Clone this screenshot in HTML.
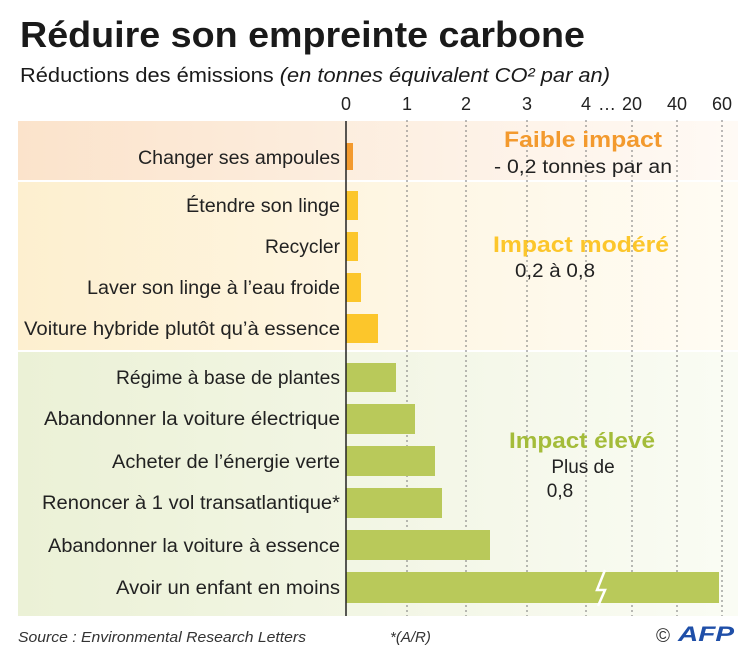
<!DOCTYPE html>
<html><head><meta charset="utf-8"><style>
html,body{margin:0;padding:0;background:#fff;}
svg{display:block;font-family:"Liberation Sans",sans-serif;}
</style></head><body>
<svg width="750" height="654" viewBox="0 0 750 654" xmlns="http://www.w3.org/2000/svg">
<defs>
<linearGradient id="go" x1="0" x2="1"><stop offset="0" stop-color="#fbe3cb"/><stop offset="0.6" stop-color="#fdf1e5"/><stop offset="1" stop-color="#fffaf5"/></linearGradient>
<linearGradient id="gy" x1="0" x2="1"><stop offset="0" stop-color="#fdefcf"/><stop offset="0.6" stop-color="#fef7e6"/><stop offset="1" stop-color="#fffcf4"/></linearGradient>
<linearGradient id="gg" x1="0" x2="1"><stop offset="0" stop-color="#ebf1d6"/><stop offset="0.6" stop-color="#f4f7e8"/><stop offset="1" stop-color="#fafcf4"/></linearGradient>
</defs>
<text x="20" y="47" font-size="36" font-weight="bold" fill="#1a1a1a" textLength="565" lengthAdjust="spacingAndGlyphs">Réduire son empreinte carbone</text>
<text x="20" y="82" font-size="20" fill="#1a1a1a" textLength="590" lengthAdjust="spacingAndGlyphs">Réductions des émissions <tspan font-style="italic">(en tonnes équivalent CO² par an)</tspan></text>
<rect x="18" y="121" width="720" height="59" fill="url(#go)"/>
<rect x="18" y="182" width="720" height="168" fill="url(#gy)"/>
<rect x="18" y="352" width="720" height="264" fill="url(#gg)"/>
<g stroke="#777" stroke-width="1" stroke-dasharray="2,3">
<line x1="407" y1="120" x2="407" y2="616"/><line x1="466" y1="120" x2="466" y2="616"/><line x1="527" y1="120" x2="527" y2="616"/><line x1="586" y1="120" x2="586" y2="616"/><line x1="632" y1="120" x2="632" y2="616"/><line x1="677" y1="120" x2="677" y2="616"/><line x1="722" y1="120" x2="722" y2="616"/>
</g>
<g font-size="18" fill="#222" text-anchor="middle">
<text x="346" y="110">0</text><text x="407" y="110">1</text><text x="466" y="110">2</text><text x="527" y="110">3</text><text x="586" y="110">4</text><text x="607" y="110">…</text><text x="632" y="110">20</text><text x="677" y="110">40</text><text x="722" y="110">60</text>
</g>
<g>
<rect x="346" y="143" width="7" height="27" fill="#f39a2e"/>
<rect x="346" y="191" width="12" height="29" fill="#fcc62b"/>
<rect x="346" y="232" width="12" height="29" fill="#fcc62b"/>
<rect x="346" y="273" width="15" height="29" fill="#fcc62b"/>
<rect x="346" y="314" width="32" height="29" fill="#fcc62b"/>
<rect x="346" y="363" width="50" height="29" fill="#b9c95a"/>
<rect x="346" y="404" width="69" height="30" fill="#b9c95a"/>
<rect x="346" y="446" width="89" height="30" fill="#b9c95a"/>
<rect x="346" y="488" width="96" height="30" fill="#b9c95a"/>
<rect x="346" y="530" width="144" height="30" fill="#b9c95a"/>
<rect x="346" y="572" width="373" height="31" fill="#b9c95a"/>
<polyline points="605,570 597,590 605,590 598,606" fill="none" stroke="#fff" stroke-width="2.5"/>
</g>
<line x1="346" y1="121" x2="346" y2="616" stroke="#222" stroke-width="1.5"/>
<g font-size="19" fill="#222" text-anchor="end" lengthAdjust="spacingAndGlyphs">
<text x="340" y="164" textLength="202" lengthAdjust="spacingAndGlyphs">Changer ses ampoules</text>
<text x="340" y="212" textLength="154" lengthAdjust="spacingAndGlyphs">Étendre son linge</text>
<text x="340" y="253" textLength="75" lengthAdjust="spacingAndGlyphs">Recycler</text>
<text x="340" y="294" textLength="253" lengthAdjust="spacingAndGlyphs">Laver son linge à l’eau froide</text>
<text x="340" y="335" textLength="316" lengthAdjust="spacingAndGlyphs">Voiture hybride plutôt qu’à essence</text>
<text x="340" y="384" textLength="224" lengthAdjust="spacingAndGlyphs">Régime à base de plantes</text>
<text x="340" y="425" textLength="296" lengthAdjust="spacingAndGlyphs">Abandonner la voiture électrique</text>
<text x="340" y="468" textLength="228" lengthAdjust="spacingAndGlyphs">Acheter de l’énergie verte</text>
<text x="340" y="509" textLength="298" lengthAdjust="spacingAndGlyphs">Renoncer à 1 vol transatlantique*</text>
<text x="340" y="552" textLength="292" lengthAdjust="spacingAndGlyphs">Abandonner la voiture à essence</text>
<text x="340" y="594" textLength="224" lengthAdjust="spacingAndGlyphs">Avoir un enfant en moins</text>
</g>
<g text-anchor="middle">
<text x="583" y="147" font-size="22" font-weight="bold" fill="#f39a2e" textLength="158" lengthAdjust="spacingAndGlyphs">Faible impact</text>
<text x="583" y="173" font-size="19" fill="#222" textLength="178" lengthAdjust="spacingAndGlyphs">- 0,2 tonnes par an</text>
<text x="581" y="252" font-size="22" font-weight="bold" fill="#fcc62b" textLength="176" lengthAdjust="spacingAndGlyphs">Impact modéré</text>
<text x="555" y="277" font-size="19" fill="#222" textLength="80" lengthAdjust="spacingAndGlyphs">0,2 à 0,8</text>
<text x="582" y="448" font-size="22" font-weight="bold" fill="#a4bc3a" textLength="146" lengthAdjust="spacingAndGlyphs">Impact élevé</text>
<text x="583" y="473" font-size="19" fill="#222">Plus de</text>
<text x="560" y="497" font-size="19" fill="#222">0,8</text>
</g>
<text x="18" y="642" font-size="15" font-style="italic" fill="#333" textLength="288" lengthAdjust="spacingAndGlyphs">Source : Environmental Research Letters</text>
<text x="390" y="642" font-size="15" font-style="italic" fill="#333">*(A/R)</text>
<text x="656" y="642" font-size="19" fill="#333">©</text>
<text x="678" y="641" font-size="21" font-weight="bold" font-style="italic" fill="#1f4fa8" textLength="56" lengthAdjust="spacingAndGlyphs">AFP</text>
</svg>
</body></html>
